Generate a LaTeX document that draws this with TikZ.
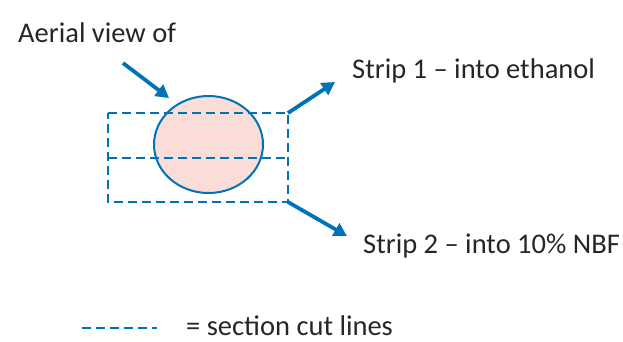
\documentclass[tikz,border=0pt]{standalone}
\usepackage{fontspec}
\setmainfont{Carlito}
\usetikzlibrary{arrows.meta,shapes.geometric}
\definecolor{cblue}{RGB}{0,114,182}
\definecolor{cpink}{RGB}{250,221,216}
\definecolor{ctext}{RGB}{38,38,38}
\tikzset{
  lbl/.style={anchor=base west, inner sep=0pt, text=ctext, font=\fontsize{28.5}{34}\selectfont},
  cut/.style={draw=cblue, line width=1.9pt, dash pattern=on 9pt off 5pt},
  bigarrow/.style={draw=cblue, line width=3.8pt, -{Triangle[length=13pt,width=14pt]}},
}
\begin{document}
\begin{tikzpicture}[x=1pt,y=-1pt]
\useasboundingbox (0,0) rectangle (623,341);
% sample
\node[draw=cblue, line width=2pt, fill=cpink, ellipse, minimum width=109pt, minimum height=97pt, inner sep=0pt] (sample) at (208.5,144.5) {};
% section cut rectangle
\coordinate (tl) at (108,113);
\coordinate (tr) at (288,113);
\coordinate (br) at (288,202);
\coordinate (bl) at (108,202);
\coordinate (ml) at (108,158);
\coordinate (mr) at (288,158);
\draw[cut] (tl) -- (tr) -- (br) -- (bl) -- cycle;
\draw[cut] (ml) -- (mr);
% labels
\node[lbl] (aerial) at (18,42) {Aerial view of};
\node[lbl] (strip1) at (352,78) {Strip 1 – into ethanol};
\node[lbl] (strip2) at (363,253) {Strip 2 – into 10\% NBF};
\node[lbl] (legend) at (186,335) {= section cut lines};
% arrows
\coordinate (a0) at (123,63);
\coordinate (a1) at (169,98);
\coordinate (s1) at (335,82);
\coordinate (s2) at (347,236);
\draw[bigarrow] (a0) -- (a1);
\draw[bigarrow] (tr) -- (s1);
\draw[bigarrow] (br) -- (s2);
% legend dashes
\coordinate (lg0) at (82,328);
\coordinate (lg1) at (157,328);
\draw[cut] (lg0) -- (lg1);
\end{tikzpicture}
\end{document}
